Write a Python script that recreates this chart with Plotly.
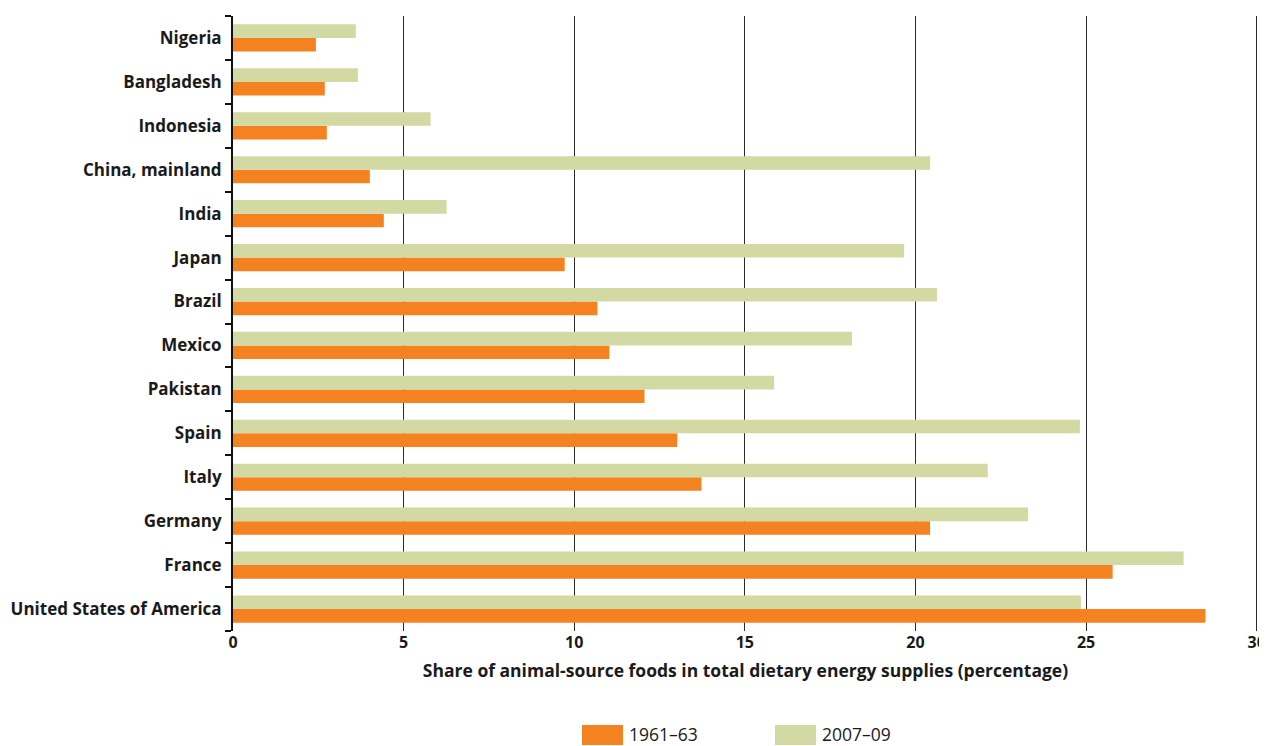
import plotly.graph_objects as go

countries = ["Nigeria", "Bangladesh", "Indonesia", "China, mainland", "India", "Japan",
             "Brazil", "Mexico", "Pakistan", "Spain", "Italy", "Germany", "France",
             "United States of America"]
v1961 = [2.43, 2.69, 2.75, 4.01, 4.42, 9.72, 10.68, 11.03, 12.06, 13.02, 13.73, 20.43, 25.78, 28.5]
v2007 = [3.6, 3.66, 5.79, 20.43, 6.26, 19.67, 20.63, 18.14, 15.86, 24.82, 22.12, 23.3, 27.86, 24.85]
series_names = ["1961–63", "2007–09"]
x_ticks = [0, 5, 10, 15, 20, 25, 30]
x_title = "Share of animal-source foods in total dietary energy supplies (percentage)"

ORANGE = "#F58220"
GREEN = "#D3D9A3"
FONT = "Open Sans"
TXT = "#1a1a1a"

# page body has an 8px default margin; figure is sized/offset to compensate
OFF = 8
W, H = 1267 - OFF, 746 - OFF
L, R, T, B = 233 - OFF, 9, 16 - OFF, 123 - OFF
PW, PH = W - L - R, H - T - B

fig = go.Figure()
fig.add_trace(go.Bar(y=countries, x=v1961, orientation="h", name=series_names[0],
                     marker=dict(color=ORANGE, line=dict(width=0)), showlegend=False))
fig.add_trace(go.Bar(y=countries, x=v2007, orientation="h", name=series_names[1],
                     marker=dict(color=GREEN, line=dict(width=0)), showlegend=False))

fig.update_layout(
    width=W, height=H,
    margin=dict(l=L, r=R, t=T, b=B, autoexpand=False),
    paper_bgcolor="white", plot_bgcolor="white",
    barmode="group", bargap=0.38, bargroupgap=0,
    font=dict(family=FONT, color=TXT),
    xaxis=dict(range=[0, 30.04], tickvals=x_ticks, showgrid=True, gridcolor="#2b2b2b",
               gridwidth=1, zeroline=False, showline=False, ticks="", automargin=False,
               tickfont=dict(size=16, weight="bold", family=FONT, color=TXT),
               title=dict(text=x_title, standoff=12,
                          font=dict(size=17.5, weight="bold", family=FONT, color=TXT))),
    yaxis=dict(categoryorder="array", categoryarray=countries[::-1], automargin=False,
               showline=True, linecolor="#111111", linewidth=2,
               ticks="outside", tickson="boundaries", ticklen=6, tickwidth=2,
               tickcolor="#111111", showgrid=False, ticklabelstandoff=6,
               tickfont=dict(size=17, weight="bold", family=FONT, color=TXT)),
)

# manual legend at bottom (page coords converted to paper coords)
legend_items = [(series_names[0], ORANGE, 582), (series_names[1], GREEN, 775)]
for name, col, x0 in legend_items:
    fig.add_shape(type="rect", xref="paper", yref="paper",
                  x0=(x0 - 233) / PW, x1=(x0 + 41 - 233) / PW,
                  y0=(623 - 737) / PH, y1=(623 - 717) / PH,
                  fillcolor=col, line=dict(width=0))
    fig.add_annotation(xref="paper", yref="paper", x=(x0 + 45 - 233) / PW,
                       y=(623 - 726) / PH, text=name, showarrow=False,
                       xanchor="left", yanchor="middle",
                       font=dict(size=17.5, family=FONT, color=TXT))

fig.write_html("out.html")
